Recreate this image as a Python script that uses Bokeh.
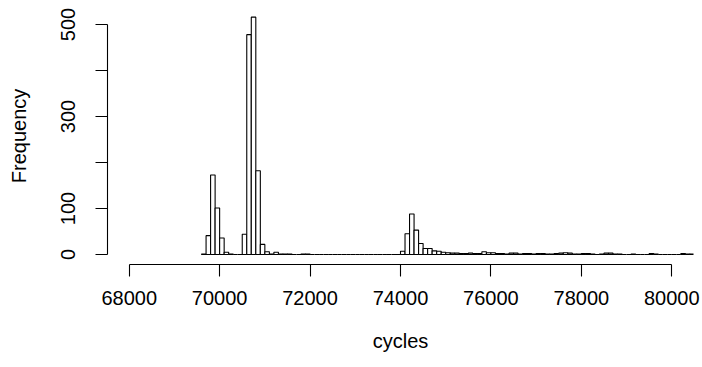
from bokeh.plotting import figure
from bokeh.models import Range1d, LinearAxis, FixedTicker
from bokeh.embed import file_html
from bokeh.resources import INLINE

# histogram breaks: start and width (cycles)
break_start = 69600
break_width = 100
counts = [
    1, 41, 173, 101, 36, 5, 1, 0, 0, 44,          # 69600 - 70500
    478, 516, 182, 22, 6, 1, 5, 1, 1, 1,          # 70600 - 71500
    0, 0, 1, 1, 0, 0, 0, 0, 0, 0,                 # 71600 - 72500
    0, 0, 0, 0, 0, 0, 0, 0, 0, 0,                 # 72600 - 73500
    0, 0, 0, 0, 7, 45, 88, 53, 24, 13,            # 73600 - 74500
    13, 8, 7, 5, 4, 3, 3, 2, 2, 3,                # 74600 - 75500
    2, 2, 6, 4, 4, 2, 2, 1, 3, 3,                 # 75600 - 76500
    1, 2, 2, 1, 2, 2, 1, 1, 2, 3,                 # 76600 - 77500
    4, 3, 1, 1, 2, 2, 1, 0, 1, 3,                 # 77600 - 78500
    3, 1, 1, 0, 0, 1, 0, 0, 0, 2,                 # 78600 - 79500
    1, 0, 0, 0, 0, 0, 2, 1, 1,                    # 79600 - 80400
]
x_ticks = [68000, 70000, 72000, 74000, 76000, 78000, 80000]
y_ticks = [0, 100, 200, 300, 400, 500]
y_tick_labels = {0: "0", 100: "100", 200: "", 300: "300", 400: "", 500: "500"}

lefts = [break_start + i * break_width for i in range(len(counts))]
rights = [l + break_width for l in lefts]

FONT = "Liberation Sans"

p = figure(width=700, height=365, output_backend="svg", toolbar_location=None,
           x_range=Range1d(67520, 80480), y_range=Range1d(-21.7, 537),
           x_axis_location=None, y_axis_location=None,
           min_border_left=107, min_border_right=7, min_border_top=7, min_border_bottom=101)
p.outline_line_color = None
p.grid.visible = False
p.background_fill_color = "white"
p.border_fill_color = "white"

p.quad(left=lefts, right=rights, bottom=0, top=counts,
       fill_color="white", line_color="black", line_width=1.1)

xa = LinearAxis(ticker=FixedTicker(ticks=x_ticks), bounds=(68000, 80000),
                axis_label="cycles")
ya = LinearAxis(ticker=FixedTicker(ticks=y_ticks), bounds=(0, 500),
                axis_label="Frequency", major_label_overrides=y_tick_labels)
for ax in (xa, ya):
    ax.axis_line_color = "black"
    ax.axis_line_width = 1.1
    ax.major_tick_line_color = "black"
    ax.major_tick_line_width = 1.1
    ax.major_tick_out = 12
    ax.major_tick_in = 0
    ax.minor_tick_line_color = None
    ax.major_label_text_font = FONT
    ax.major_label_text_font_size = "20px"
    ax.major_label_text_color = "black"
    ax.axis_label_text_font = FONT
    ax.axis_label_text_font_size = "20px"
    ax.axis_label_text_font_style = "normal"
    ax.axis_label_text_color = "black"
xa.major_label_standoff = 14
xa.axis_label_standoff = 22
ya.major_label_orientation = "vertical"
ya.major_label_standoff = 20
ya.axis_label_standoff = 29

p.add_layout(xa, "below")
p.add_layout(ya, "left")

open("out.html", "w").write(file_html(p, INLINE))
